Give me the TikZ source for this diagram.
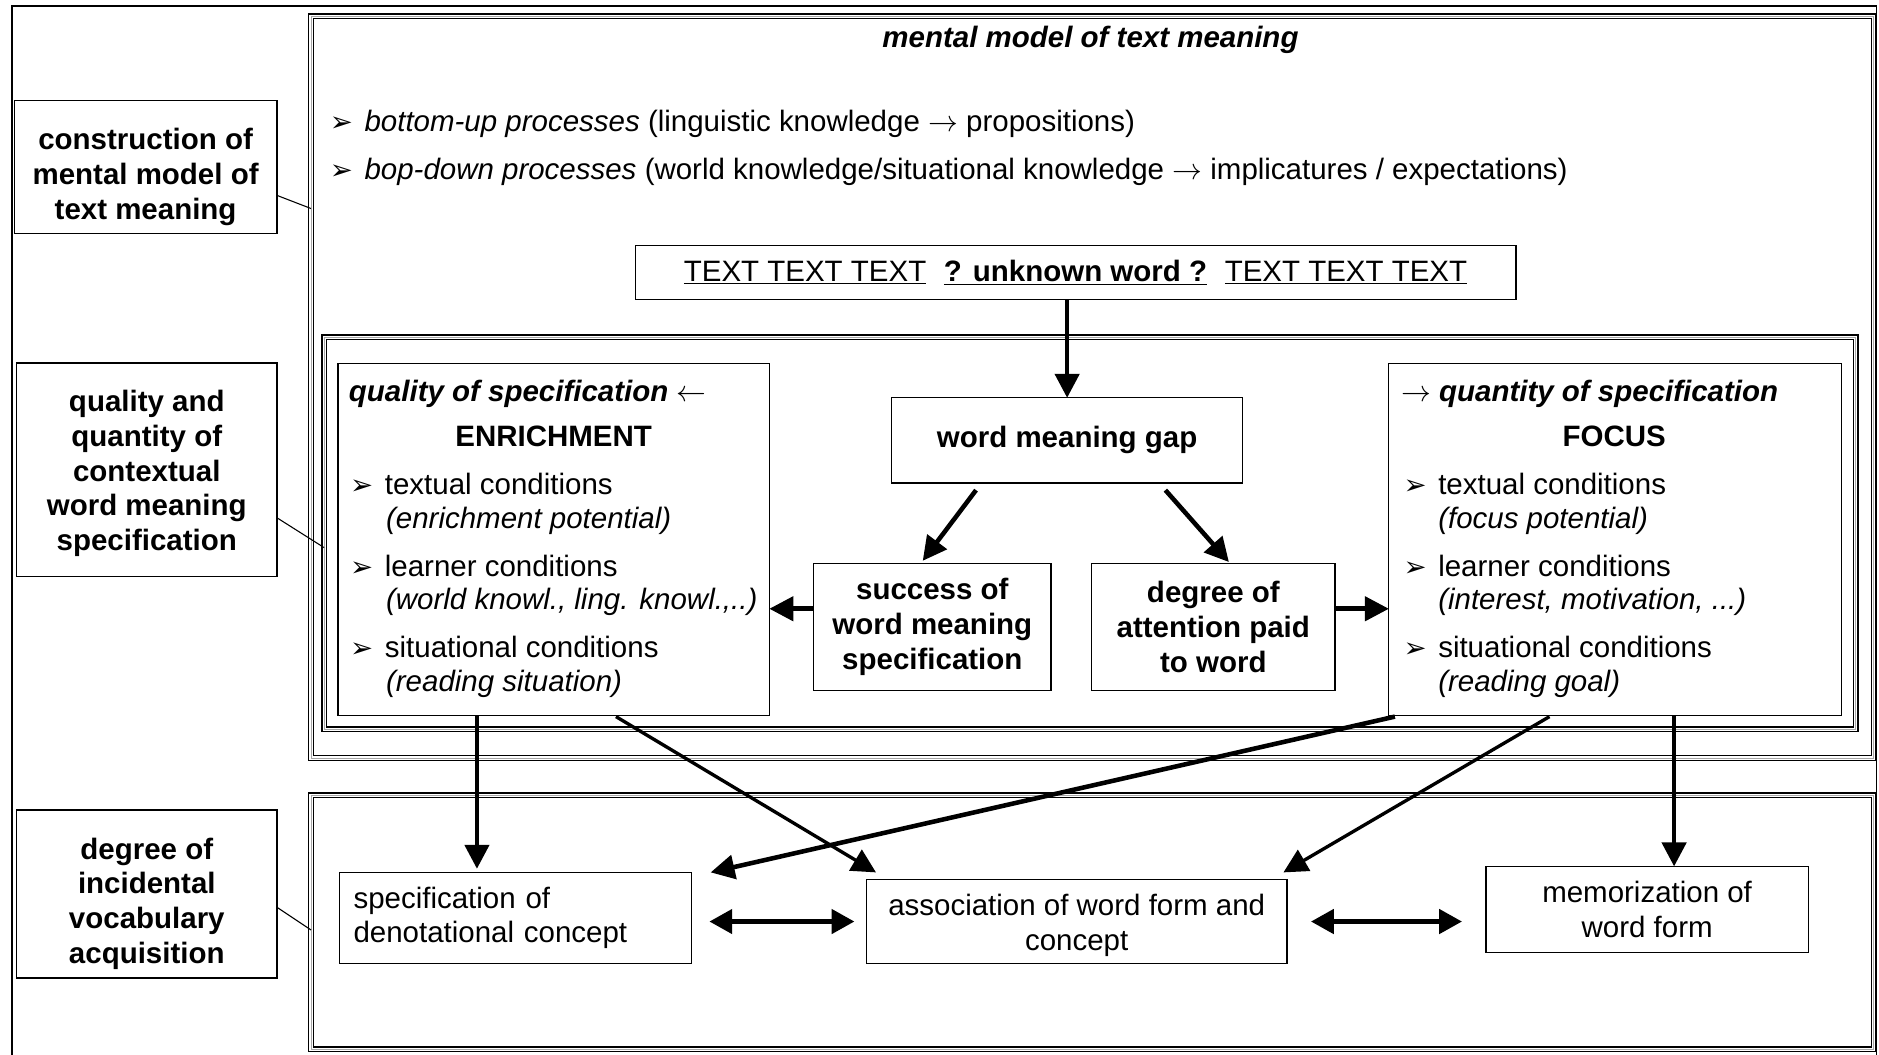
\documentclass[tikz,border=0pt]{standalone}
\usepackage{fontspec}
\setmainfont{Liberation Sans}
\newfontfamily\symfont{DejaVu Sans}
\usetikzlibrary{arrows.meta,calc,positioning}

\newcommand\fs{\fontsize{24.6}{29}\selectfont}
\newcommand\bl{\makebox[29pt][l]{\symfont\fontsize{23}{23}\selectfont ➢}}
\newcommand\pad[1]{\rule{0pt}{#1pt}}

\tikzset{
	box/.style={draw, line width=1pt, inner sep=0pt, outer sep=0pt, align=center, font=\fs},
	lab/.style={box, line width=1.2pt, font=\fs\bfseries},
	frame/.style={draw, line width=1.2pt, double=white, double distance=2.6pt, inner sep=0pt, outer sep=0pt, postaction={draw, line width=0.6pt, gray!70}},
	txt/.style={inner sep=0pt, anchor=base west, font=\fs},
	arr/.style={line width=3.8pt, -{Triangle[length=20pt,width=20pt]}},
	dbl/.style={line width=3.8pt, {Triangle[length=19pt,width=20pt]}-{Triangle[length=19pt,width=20pt]}},
}

\begin{document}
\begin{tikzpicture}[x=1pt, y=-1pt]
		\pgfmathsetmacro{\rowstep}{68}
		\useasboundingbox (0,0) rectangle (1568,880);
		\draw[line width=1.2pt] (10,880) -- (10,5) -- (1566,5) -- (1566,880);

		% frames
		\node[frame, minimum width=1304pt, minimum height=619pt] (top) at (911.5,323) {};
		\node[frame, minimum width=1278pt, minimum height=327pt] (mid) at (909.5,445) {};
		\node[frame, minimum width=1304pt, minimum height=212pt] (bot) at (911.5,769.5) {};

		% labels on the left
		\node[lab, minimum width=219pt, minimum height=111pt] (l1) at (121.5,139.5) {\pad{34}construction of\\mental model of\\text meaning};
		\node[lab, minimum width=217pt, minimum height=178pt] (l2) at (122.5,392) {\pad{24}quality and\\quantity of\\contextual\\word meaning\\specification};
		\node[lab, minimum width=217pt, minimum height=140pt] (l3) at (122.5,746) {\pad{34}degree of\\incidental\\vocabulary\\acquisition};
		\draw[line width=0.9pt] ($(l1.east)+(0,23.5)$) -- ($(top.west)+(0,-149)$);
		\draw[line width=0.9pt] ($(l2.east)+(0,40)$) -- ($(mid.west)+(0,12)$);
		\draw[line width=0.9pt] ($(l3.east)+(0,11)$) -- ($(bot.west)+(0,6.5)$);

		\node[inner sep=0pt, anchor=base, font=\fs\bfseries\itshape] (ttl) at (910,40) {mental model of text meaning};
		\node[txt] (p1) at (275,110) {\bl\textit{bottom-up processes} (linguistic knowledge $\rightarrow$ propositions)};
		\node[txt] (p2) at (275,150) {\bl\textit{bop-down processes} (world knowledge/situational knowledge $\rightarrow$ implicatures / expectations)};

		\node[box, minimum width=735pt, minimum height=45pt] (tb) at (897.5,227.5) {\underline{TEXT TEXT TEXT}\hspace{0.6em}\underline{\textbf{? unknown word ?}}\hspace{0.6em}\underline{TEXT TEXT TEXT}};

		\node[box, font=\fs\bfseries, minimum width=293pt, minimum height=71pt] (gap) at (890.5,367.5) {word meaning gap};
		\node[box, font=\fs\bfseries, minimum width=198pt, minimum height=106pt] (succ) at (778,523) {success of\\word meaning\\specification};
		\node[box, font=\fs\bfseries, minimum width=203pt, minimum height=106pt] (deg) at (1012.5,523) {degree of\\attention paid\\to word};

		% enrichment and focus
		\node[box, minimum width=360pt, minimum height=294pt] (en) at (462,450) {};
		\node[box, minimum width=378pt, minimum height=294pt] (fo) at (1348,450) {};
		\node[txt, font=\fs\bfseries\itshape] (enq) at (291,335) {quality of specification $\leftarrow$};
		\node[inner sep=0pt, anchor=base, font=\fs\bfseries] (ent) at (462,373) {ENRICHMENT};
		\node[txt, font=\fs\bfseries\itshape] (foq) at (1169,335) {$\rightarrow$ quantity of specification};
		\node[inner sep=0pt, anchor=base, font=\fs\bfseries] (fot) at (1347,373) {FOCUS};
		\foreach \a/\b [count=\i from 0] in {textual conditions/enrichment potential, learner conditions/{world knowl., ling. knowl.,..}, situational conditions/reading situation}
		{
			\node[txt] (e\i) at (292,413+\rowstep*\i) {\bl \a};
			\node[txt, font=\fs\itshape] (es\i) at (322,441+\rowstep*\i) {(\b)};
		}
		\foreach \a/\b [count=\i from 0] in {textual conditions/focus potential, learner conditions/{interest, motivation, ...}, situational conditions/reading goal}
		{
			\node[txt] (f\i) at (1171,413+\rowstep*\i) {\bl \a};
			\node[txt, font=\fs\itshape] (fs\i) at (1200,441+\rowstep*\i) {(\b)};
		}

		% acquisition
		\node[box, minimum width=294pt, minimum height=76pt, text width=270pt, inner xsep=12pt, align=left] (spec) at (430,766) {specification of\\denotational concept};
		\node[box, minimum width=351pt, minimum height=70pt] (asc) at (898.5,769) {\pad{24}association of word form and\\concept};
		\node[box, minimum width=269pt, minimum height=72pt] (mem) at (1374.5,759) {memorization of\\word form};

		\draw[arr] (tb.south -| gap.north) -- (gap.north);
		\draw[arr] ($(gap.south)+(-76,6)$) -- ($(succ.north)+(-8,-2)$);
		\draw[arr] ($(gap.south)+(82,6)$) -- ($(deg.north)+(13,-1)$);
		\draw[arr] ($(succ.west)+(0,-15)$) -- ($(en.east)+(0,58)$);
		\draw[arr] ($(deg.east)+(0,-15)$) -- ($(fo.west)+(0,58)$);
		\draw[arr] ($(en.south west)+(116,0)$) -- ($(spec.north west)+(115,-3)$);
		\draw[arr, line width=2.8pt] ($(en.south west)+(232,1)$) -- ($(asc.north west)+(8,-6)$);
		\draw[arr] ($(fo.south west)+(5,1)$) -- ($(spec.north east)+(16,0)$);
		\draw[arr, line width=2.8pt] ($(fo.south west)+(134,1)$) -- ($(asc.north east)+(-3,-6)$);
		\draw[arr] ($(fo.south west)+(238,0)$) -- ($(mem.north west)+(157,0)$);
		\draw[dbl] ($(spec.east)+(15,3)$) -- ($(asc.west)+(-10,0)$);
		\draw[dbl] ($(asc.east)+(20,0)$) -- ($(mem.west)+(-20,10)$);
	\end{tikzpicture}
\end{document}
